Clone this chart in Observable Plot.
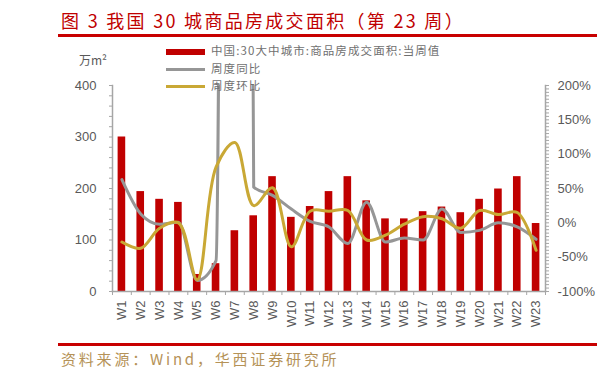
<!DOCTYPE html>
<html><head><meta charset="utf-8">
<script src="https://cdn.jsdelivr.net/npm/d3@7"></script>
<script src="https://cdn.jsdelivr.net/npm/@observablehq/plot@0.6"></script>
<style>
body{margin:0;background:#fff;}
#wrap{position:relative;width:603px;height:378px;overflow:hidden;font-family:"Liberation Sans",Arial,sans-serif;}
#wrap svg{position:absolute;left:0;top:0;}
.ov{position:absolute;white-space:nowrap;}
#title{left:61px;top:8px;font-size:18px;line-height:24px;letter-spacing:2.3px;color:#c00000;font-family:"Noto Sans CJK SC",sans-serif;}
.rule{position:absolute;left:58px;width:539px;height:3px;background:#c80000;}
#unit{left:79px;top:51px;font-size:12px;color:#595959;font-family:"Noto Sans CJK SC",sans-serif;}
.leg{position:absolute;left:166px;font-size:11.5px;letter-spacing:1.1px;color:#707070;font-family:"Noto Sans CJK SC",sans-serif;line-height:16px;}
.sw{display:inline-block;width:39px;vertical-align:middle;margin-right:6px;}
#source{left:61px;top:348px;font-size:15px;letter-spacing:2.8px;color:#b59257;font-family:"Noto Sans CJK SC",sans-serif;}
</style></head><body>
<div id="wrap"></div>
<script>
const cats = ["W1","W2","W3","W4","W5","W6","W7","W8","W9","W10","W11","W12","W13","W14","W15","W16","W17","W18","W19","W20","W21","W22","W23"];
const area = [300,194,179,173,33,54,118,147,223,144,165,194,223,176,141,141,155,164,153,179,199,223,132];
const yoy = [63,13,-2,1,-84,-55,5000,52,40,20,2,-6,-30,30,-28,-22,-25,20,-14,-11,0,-6,-24];
const wow = [-28,-37,-8,0,-83,81,117,25,51,-35,17,17,18,-25,-18,-2,9,6,-8,18,12,15,-40];
const leftTicks = [0,100,200,300,400];
const pctTicks = [-100,-50,0,50,100,150,200];
const seriesNames = ["中国:30大中城市:商品房成交面积:当周值","周度同比","周度环比"];
const colors = ["#c00000","#969696","#c9a835"];
const titleText = "图 3 我国 30 城商品房成交面积（第 23 周）";
const unitText = "万m²";
const sourceText = "资料来源：Wind，华西证券研究所";

const W=603,H=378,mL=112,mR=58,mT=85,mB=87;
const step=(W-mL-mR)/cats.length;
const inset=(step-7.6)/2;
const toLeft = p => (p-pctTicks[0])*leftTicks[leftTicks.length-1]/(pctTicks[pctTicks.length-1]-pctTicks[0]);
const fromLeft = v => v*(pctTicks[pctTicks.length-1]-pctTicks[0])/leftTicks[leftTicks.length-1]+pctTicks[0];
const rows = cats.map((c,i)=>({c, area:area[i], yoy:toLeft(yoy[i]), wow:toLeft(wow[i])}));
const axisColor="#a6a6a6", textColor="#595959";

const plot = Plot.plot({
  width:W,height:H,marginLeft:mL,marginRight:mR,marginTop:mT,marginBottom:mB,
  style:{fontFamily:"'Liberation Sans',Arial,sans-serif",fontSize:"13px",color:textColor,background:"transparent"},
  x:{type:"band",domain:cats,padding:0,round:false,label:null},
  y:{domain:[leftTicks[0],leftTicks[leftTicks.length-1]],label:null},
  marks:[
    Plot.barY(rows,{x:"c",y:"area",fill:colors[0],insetLeft:inset,insetRight:inset}),
    Plot.line(rows,{x:"c",y:"yoy",stroke:colors[1],strokeWidth:3,curve:"monotone-x",clip:true}),
    Plot.line(rows,{x:"c",y:"wow",stroke:colors[2],strokeWidth:3,curve:"catmull-rom",clip:true}),
    Plot.frame({anchor:"left",stroke:axisColor,strokeWidth:1.5}),
    Plot.frame({anchor:"right",stroke:axisColor,strokeWidth:1.5}),
    Plot.frame({anchor:"bottom",stroke:axisColor,strokeWidth:1.5}),
    Plot.axisY(d3.range(leftTicks[0],leftTicks[leftTicks.length-1]+1,20),{anchor:"left",tickSize:3,tickPadding:13,stroke:axisColor,fill:textColor,tickFormat:d=>leftTicks.includes(d)?String(d):""}),
    Plot.axisY(d3.range(pctTicks[0],pctTicks[pctTicks.length-1]+1,5).map(toLeft),{anchor:"right",tickSize:3,tickPadding:9,stroke:axisColor,fill:textColor,tickFormat:v=>{const p=Math.round(fromLeft(v));return pctTicks.includes(p)?p+"%":"";}}),
    Plot.axisX(cats,{anchor:"bottom",tickSize:0,tickPadding:9,tickRotate:-90,fill:textColor}),
    Plot.axisX(cats,{anchor:"bottom",tickSize:4,tickFormat:()=>"",dx:-step/2,stroke:axisColor}),
    Plot.axisX([cats[cats.length-1]],{anchor:"bottom",tickSize:4,tickFormat:()=>"",dx:step/2,stroke:axisColor})
  ]
});
const wrap=document.getElementById("wrap");
wrap.appendChild(plot);

function add(html){wrap.insertAdjacentHTML("beforeend",html);}
add(`<div class="ov" id="title">${titleText}</div>`);
add(`<div class="rule" style="top:34px"></div>`);
add(`<div class="ov" id="unit">${unitText}</div>`);
const legTops=[42,60,77];
seriesNames.forEach((n,i)=>{
  const sw = i===0 ? `<span class="sw" style="height:6px;background:${colors[0]}"></span>` : `<span class="sw" style="height:3px;background:${colors[i]}"></span>`;
  add(`<div class="leg" style="top:${legTops[i]}px">${sw}${n}</div>`);
});
add(`<div class="rule" style="top:343px"></div>`);
add(`<div class="ov" id="source">${sourceText}</div>`);
</script></body></html>
